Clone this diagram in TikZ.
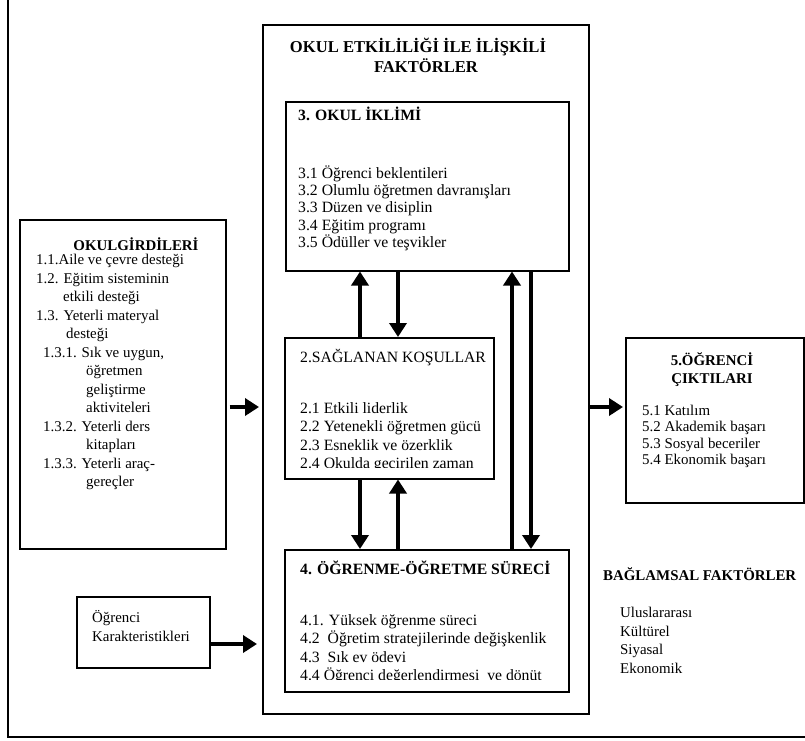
\documentclass[tikz,border=0pt]{standalone}
\usepackage{fontspec}
\setmainfont{Liberation Serif}
\usetikzlibrary{arrows.meta}
\begin{document}
\begin{tikzpicture}[x=1pt,y=-1pt,
  box/.style={draw=black, line width=1.5pt, inner sep=0pt, anchor=north west},
  tx/.style={anchor=base west, inner sep=0pt, font=\fontsize{15.7}{18}\selectfont},
  btx/.style={anchor=base west, inner sep=0pt, font=\fontsize{15.7}{18}\selectfont\bfseries},
  stx/.style={anchor=base west, inner sep=0pt, font=\fontsize{14.9}{18}\selectfont},
  sbtx/.style={anchor=base, inner sep=0pt, font=\fontsize{14.9}{18}\selectfont\bfseries},
  ttl/.style={anchor=base, inner sep=0pt, font=\fontsize{16.6}{20}\selectfont\bfseries},
  flow/.style={line width=4pt, -{Triangle[length=14pt,width=17pt]}},
  frame/.style={line width=1.5pt}
]
\useasboundingbox (0,0) rectangle (805,740);
\fill[white] (0,0) rectangle (805,740);

% outer open frame
\draw[frame] (8,0) -- (8,737) -- (805,737);

% boxes
\node[box, minimum width=326pt, minimum height=689pt] (ctr) at (262,24) {};
\node[box, minimum width=283pt, minimum height=169pt] (b3) at (285,101) {};
\node[box, minimum width=209pt, minimum height=141pt] (b2) at (284,337) {};
\node[box, minimum width=284pt, minimum height=142pt] (b4) at (284,549) {};
\node[box, minimum width=206pt, minimum height=329pt] (b1) at (19,219) {};
\node[box, minimum width=133pt, minimum height=71pt] (bk) at (76,596) {};
\node[box, minimum width=178pt, minimum height=165pt] (b5) at (625,337) {};

% title
\node[ttl] (tt1) at (418,52) {OKUL ETKİLİLİĞİ İLE İLİŞKİLİ};
\node[ttl] (tt2) at (426,72) {FAKTÖRLER};

% box 3
\node[btx] (t3h) at (298,120) {3. OKUL İKLİMİ};
\node[tx] (t31) at (298,178) {3.1 Öğrenci beklentileri};
\node[tx] (t32) at (298,195.4) {3.2 Olumlu öğretmen davranışları};
\node[tx] (t33) at (298,212.8) {3.3 Düzen ve disiplin};
\node[tx] (t34) at (298,230.2) {3.4 Eğitim programı};
\node[tx] (t35) at (298,247.6) {3.5 Ödüller ve teşvikler};

% box 2
\node[tx] (t2h) at (300,362) {2.SAĞLANAN KOŞULLAR};
\begin{scope}
\clip (284,337) rectangle (493,467);
\node[tx] (t21) at (300,413) {2.1 Etkili liderlik};
\node[tx] (t22) at (300,431.5) {2.2 Yetenekli öğretmen gücü};
\node[tx] (t23) at (300,450) {2.3 Esneklik ve özerklik};
\node[tx] (t24) at (300,468.5) {2.4 Okulda geçirilen zaman};
\end{scope}

% box 4
\node[btx] (t4h) at (300,574) {4. ÖĞRENME-ÖĞRETME SÜRECİ};
\begin{scope}
\clip (284,549) rectangle (568,679);
\node[tx] (t41) at (300,625) {4.1. Yüksek öğrenme süreci};
\node[tx] (t42) at (300,643.5) {4.2\ \ Öğretim stratejilerinde değişkenlik};
\node[tx] (t43) at (300,662) {4.3\ \ Sık ev ödevi};
\node[tx] (t44) at (300,680.5) {4.4 Öğrenci değerlendirmesi\ \ ve dönüt};
\end{scope}

% box 1
\node[sbtx] (t1h) at (136,250) {OKULGİRDİLERİ};
\node[stx] (t11) at (36,264.5) {1.1.Aile ve çevre desteği};
\node[stx] (t12) at (36,283) {1.2. Eğitim sisteminin};
\node[stx] (t12b) at (63,301.5) {etkili desteği};
\node[stx] (t13) at (36,320) {1.3. Yeterli materyal};
\node[stx] (t13b) at (66,338.5) {desteği};
\node[stx] (t131) at (43,357) {1.3.1. Sık ve uygun,};
\node[stx] (t131b) at (86,375.5) {öğretmen};
\node[stx] (t131c) at (86,394) {geliştirme};
\node[stx] (t131d) at (86,412.5) {aktiviteleri};
\node[stx] (t132) at (43,431) {1.3.2. Yeterli ders};
\node[stx] (t132b) at (86,449.5) {kitapları};
\node[stx] (t133) at (43,468) {1.3.3. Yeterli araç-};
\node[stx] (t133b) at (86,486.5) {gereçler};

% student characteristics
\node[stx] (tk1) at (92,622) {Öğrenci};
\node[stx] (tk2) at (92,641) {Karakteristikleri};

% box 5
\node[sbtx] (t5h1) at (712,365) {5.ÖĞRENCİ};
\node[sbtx] (t5h2) at (712,383) {ÇIKTILARI};
\node[stx] (t51) at (642,415) {5.1 Katılım};
\node[stx] (t52) at (642,431.5) {5.2 Akademik başarı};
\node[stx] (t53) at (642,448) {5.3 Sosyal beceriler};
\node[stx] (t54) at (642,464.5) {5.4 Ekonomik başarı};

% contextual factors
\node[stx, font=\fontsize{14.9}{18}\selectfont\bfseries] (tbh) at (603,580) {BAĞLAMSAL FAKTÖRLER};
\node[stx] (tb1) at (620,617) {Uluslararası};
\node[stx] (tb2) at (620,636) {Kültürel};
\node[stx] (tb3) at (620,654.5) {Siyasal};
\node[stx] (tb4) at (620,673.5) {Ekonomik};

% arrow guide coordinates
\coordinate (xa) at (360,0);
\coordinate (xb) at (398,0);
\coordinate (xc) at (512,0);
\coordinate (xd) at (531,0);
\coordinate (ya) at (0,407);
\coordinate (yb) at (0,644);

% vertical arrows
\draw[flow] (b2.north -| xa) -- (b3.south -| xa);
\draw[flow] (b3.south -| xb) -- (b2.north -| xb);
\draw[flow] (b2.south -| xa) -- (b4.north -| xa);
\draw[flow] (b4.north -| xb) -- (b2.south -| xb);
\draw[flow] (b4.north -| xc) -- (b3.south -| xc);
\draw[flow] (b3.south -| xd) -- (b4.north -| xd);

% horizontal arrows
\draw[flow, shorten <=3pt, shorten >=3pt] (b1.east |- ya) -- (ctr.west |- ya);
\draw[flow, shorten >=2pt] (ctr.east |- ya) -- (b5.west |- ya);
\draw[flow, shorten >=5pt] (bk.east |- yb) -- (ctr.west |- yb);
\end{tikzpicture}
\end{document}
